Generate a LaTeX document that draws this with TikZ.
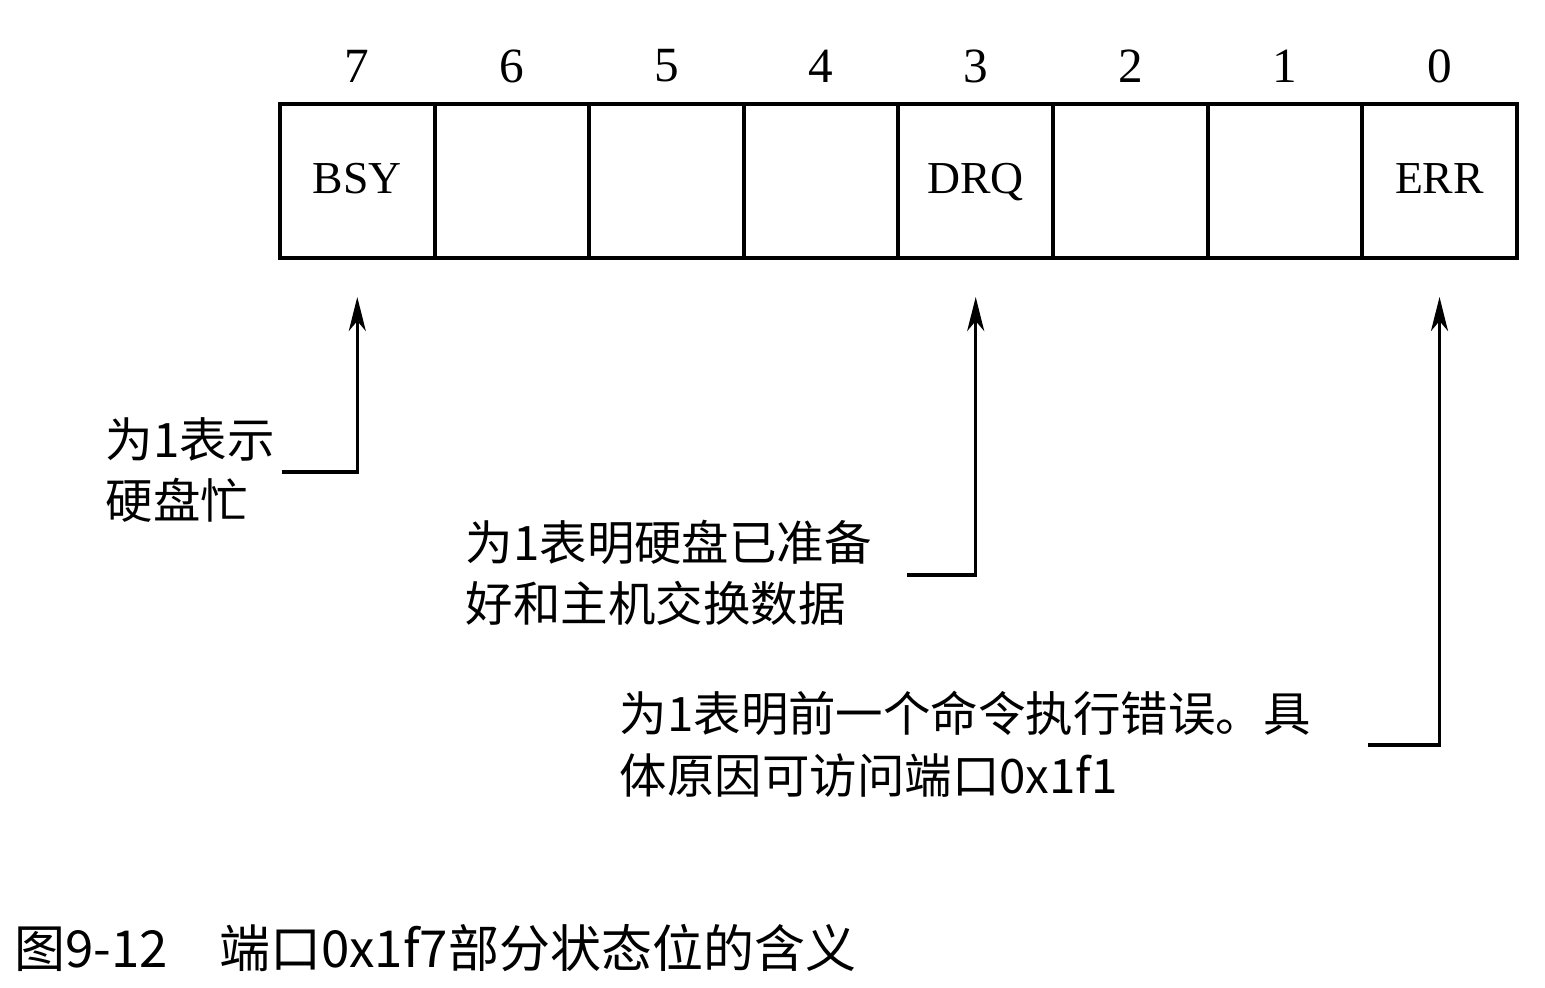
\documentclass[tikz,border=0pt]{standalone}
\usepackage{fontspec}
\setmainfont{Liberation Serif}
\newfontfamily\cjk{Noto Sans CJK SC}
\usetikzlibrary{arrows.meta,positioning}

\tikzset{
	cell/.style={draw, line width=1.1pt, minimum width=1.546cm, minimum height=1.54cm,
		inner sep=0pt, text height=1.5ex, text depth=0pt, font=\fontsize{13}{15}\selectfont},
	bitnum/.style={inner sep=0pt, font=\fontsize{14}{16}\selectfont},
	note/.style={align=left, inner sep=0pt, anchor=west, font=\cjk\fontsize{13.5}{17.5}\selectfont},
	arr/.style={line width=0.9pt, -{Stealth[length=0.34cm,width=0.17cm,inset=0.1cm]}, shorten >=0.37cm},
}

\begin{document}
\begin{tikzpicture}[x=0.01cm,y=-0.01cm]
\useasboundingbox (0,0) rectangle (1545,987);

% status register, bit 7 on the left
\foreach \b/\lab [count=\i from 0] in {7/BSY,6/,5/,4/,3/DRQ,2/,1/,0/ERR}{
	\node[cell] (b\b) at (357.3+154.6*\i, 181) {\lab};
	\node[bitnum] (n\b) at (357.3+154.6*\i, 66) {\b};
}

% notes
\node[note] (t7) at (105, 470) {为1表示\\硬盘忙};
\node[note] (t3) at (465, 573) {为1表明硬盘已准备\\好和主机交换数据};
\node[note] (t0) at (619, 744) {为1表明前一个命令执行错误。具\\体原因可访问端口0x1f1};

\coordinate (h7) at (282, 472);
\coordinate (h3) at (907, 575);
\coordinate (h0) at (1368, 745);

\draw[arr] (h7) -| (b7.south);
\draw[arr] (h3) -| (b3.south);
\draw[arr] (h0) -| (b0.south);

% caption
\node[anchor=west, inner sep=0pt, font=\cjk\fontsize{14.5}{16}\selectfont] (cap) at (14, 948)
	{图9-12\quad 端口0x1f7部分状态位的含义};

\end{tikzpicture}
\end{document}
